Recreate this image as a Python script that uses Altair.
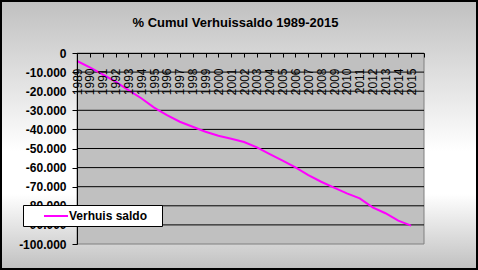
import altair as alt
import pandas as pd

# ---- data ----
years = list(range(1989, 2016))
saldo = [-4200, -7500, -11200, -15000, -19400, -23700, -28600, -32500, -36000,
         -38600, -41200, -43300, -44900, -46600, -49400, -52900, -56400, -59900,
         -63900, -67400, -70500, -73500, -76100, -80800, -83900, -87800, -90400]
series_name = "Verhuis saldo"
title_text = "% Cumul Verhuissaldo 1989-2015"
tick_years = list(range(1989, 2017))
y_ticks = list(range(-100000, 1, 10000))
grid_values = list(range(-90000, 0, 10000))

W, H = 347, 191
FONT = "Liberation Sans"

df = pd.DataFrame({"year": years, "saldo": saldo, "series": series_name})
grid_df = pd.DataFrame({"v": grid_values})

x_scale = alt.Scale(domain=[1989, 2016], nice=False, zero=False)
y_scale = alt.Scale(domain=[-100000, 0], nice=False)

y_axis = alt.Axis(
    orient="left", values=y_ticks,
    labelExpr="replace(replace(format(datum.value, ','), ',', '.'), '\u2212', '-')",
    labelFont=FONT, labelFontSize=12, labelFontWeight="bold", labelColor="black",
    labelPadding=6, tickSize=5, tickColor="black", domainColor="black",
    grid=False, title=None, zindex=1, labelOverlap=False,
)

gradient = alt.LinearGradient(
    gradient="linear",
    stops=[
        alt.GradientStop(color="#c0c0c0", offset=0),
        alt.GradientStop(color="#ffffff", offset=0.56),
        alt.GradientStop(color="#ffffff", offset=0.72),
        alt.GradientStop(color="#c0c0c0", offset=1),
    ],
    x1=0, x2=0, y1=0, y2=1,
)

bg = alt.Chart(alt.Data(values=[{}])).mark_rect(
    fill=gradient, stroke="black", strokeWidth=2
).encode(
    x=alt.value(-76), x2=alt.value(W + 53), y=alt.value(-52), y2=alt.value(H + 25)
)

plot_bg = alt.Chart(alt.Data(values=[{}])).mark_rect(
    fill="#c0c0c0", stroke="#808080", strokeWidth=1
).encode(
    x=alt.value(0), x2=alt.value(W), y=alt.value(0), y2=alt.value(H)
)

grid = alt.Chart(grid_df).mark_rule(color="black", strokeWidth=1).encode(
    y=alt.Y("v:Q", scale=y_scale, axis=y_axis),
    x=alt.value(0),
    x2=alt.value(W),
)

line = alt.Chart(df).mark_line(strokeWidth=2).encode(
    x=alt.X(
        "year:Q",
        scale=x_scale,
        axis=alt.Axis(
            orient="bottom", offset=-H, values=tick_years, format="d",
            labelExpr="datum.value == 2016 ? '' : datum.label",
            labelAngle=270, labelFont=FONT, labelFontSize=12, labelColor="black",
            labelPadding=11, tickSize=4, tickColor="black", domainColor="black",
            grid=False, title=None, zindex=1, labelFlush=False, labelOverlap=False,
        ),
    ),
    y=alt.Y("saldo:Q", scale=y_scale, axis=y_axis),
    color=alt.Color(
        "series:N",
        scale=alt.Scale(range=["#ff00ff"]),
        legend=alt.Legend(
            title=None, orient="none", legendX=-54, legendY=152,
            fillColor="white", strokeColor="black", padding=4,
            symbolType="M-2,0H2", symbolSize=144, symbolStrokeWidth=2,
            symbolOffset=22, labelOffset=6,
            labelFont=FONT, labelFontSize=12, labelFontWeight="bold", labelColor="black",
            labelExpr="datum.label + '\u00a0\u00a0\u00a0\u200b'",
            zindex=1,
        ),
    ),
)

chart = alt.layer(bg, plot_bg, grid, line).properties(
    width=W,
    height=H,
    autosize=alt.AutoSizeParams(type="none"),
    padding={"left": 77, "top": 53, "right": 54, "bottom": 26},
    title=alt.Title(
        title_text, font=FONT, fontSize=13, fontWeight="bold", color="black",
        anchor="middle", frame="group", dx=-15, offset=-40, baseline="alphabetic",
        zindex=1,
    ),
).configure_view(strokeWidth=0).configure(background="#c0c0c0")

chart.save("out.html", embed_options={"renderer": "svg", "actions": False})
